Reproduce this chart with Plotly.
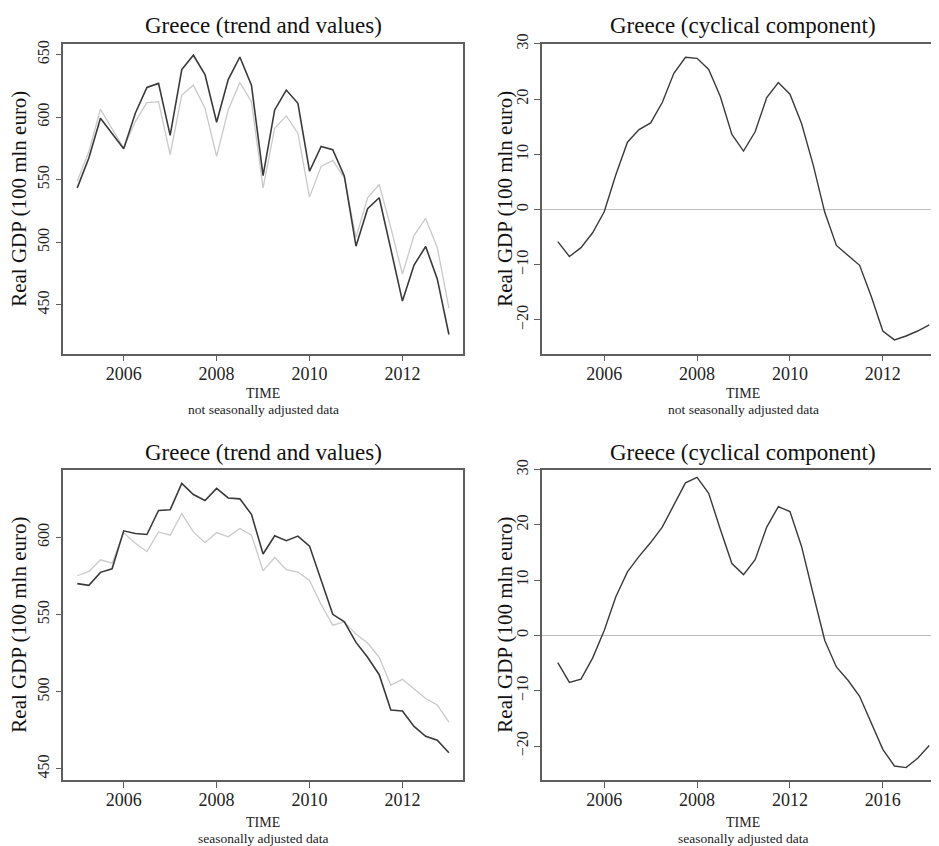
import plotly.graph_objects as go

# ---------------- data ----------------
quarters = [2005 + q / 4 for q in range(33)]

# top-left: not seasonally adjusted (dark = values, light = trend+values)
nsa_dark = [543.5, 567.4, 599.1, 587.2, 574.8, 603.1, 623.8, 627.0, 585.4, 638.1,
            649.5, 634.1, 596.0, 630.1, 648.1, 625.6, 553.3, 605.8, 621.7, 611.1,
            556.8, 576.6, 574.0, 552.8, 496.9, 526.8, 535.6, 494.5, 453.0, 481.8,
            496.6, 470.7, 426.3]
nsa_light = [548.8, 572.6, 606.3, 591.2, 575.3, 596.5, 611.6, 612.4, 570.0, 617.7,
             625.6, 607.1, 568.7, 605.8, 627.7, 612.4, 543.5, 591.2, 601.0, 587.2,
             536.1, 560.7, 565.5, 551.5, 503.8, 535.6, 546.2, 511.7, 474.6, 505.6,
             519.1, 495.8, 447.3]

# top-right: cyclical component (NSA)
nsa_cycle = [-5.8, -8.5, -6.9, -4.2, -0.4, 6.3, 12.2, 14.5, 15.7, 19.4,
             24.7, 27.6, 27.4, 25.4, 20.5, 13.6, 10.6, 14.1, 20.3, 23.0,
             20.9, 15.6, 8.1, -0.5, -6.5, -8.3, -10.1, -15.7, -22.0, -23.6,
             -22.9, -22.0, -20.9]

# bottom-left: seasonally adjusted
sa_dark = [570.1, 569.0, 577.4, 579.7, 604.3, 602.6, 601.9, 617.5, 617.9, 635.0,
           627.8, 623.9, 631.8, 625.6, 625.0, 615.0, 589.3, 601.1, 597.9, 600.9,
           594.4, 572.6, 550.2, 545.3, 532.0, 522.4, 511.1, 488.2, 487.6, 477.6,
           471.2, 468.6, 460.5]
sa_light = [575.2, 578.0, 585.5, 583.3, 603.0, 596.2, 590.8, 603.6, 601.5, 615.4,
            603.6, 596.6, 603.2, 600.4, 605.8, 601.5, 578.4, 587.0, 579.1, 577.6,
            572.2, 556.6, 543.2, 545.3, 537.4, 531.6, 522.4, 504.3, 508.1, 502.1,
            495.7, 491.5, 480.3]

# bottom-right: cyclical component (SA)
sa_cycle = [-4.9, -8.5, -7.9, -4.1, 0.9, 7.0, 11.5, 14.3, 16.8, 19.6,
            23.6, 27.6, 28.6, 25.7, 19.2, 13.0, 11.0, 13.7, 19.6, 23.3,
            22.4, 16.1, 7.5, -0.9, -5.7, -8.1, -11.0, -15.8, -20.6, -23.6,
            -23.9, -22.2, -19.9]

x_tickvals = [2006, 2008, 2010, 2012]
x_ticktext_std = ["2006", "2008", "2010", "2012"]
x_ticktext_br = ["2006", "2008", "2012", "2016"]
y_ticks_level_top = [450, 500, 550, 600, 650]
y_ticks_level_bottom = [450, 500, 550, 600]
y_ticks_cycle = [-20, -10, 0, 10, 20, 30]

titles = ["Greece (trend and values)", "Greece (cyclical component)",
          "Greece (trend and values)", "Greece (cyclical component)"]
y_title = "Real GDP (100 mln euro)"
x_title = "TIME"
sub_top = "not seasonally adjusted data"
sub_bottom = "seasonally adjusted data"

# ---------------- styling ----------------
PAGE_W, PAGE_H = 939, 846
OFF = 8  # default body margin of the html page
W, H = PAGE_W - OFF, PAGE_H - OFF
FONT = "Liberation Serif"
DARK = "#3a3a3a"
LIGHT = "#c9c9c9"
AXC = "#5e5e5e"

def px_x(p):
    return (p - OFF) / W

def px_y(p):
    return 1 - (p - OFF) / H

fig = go.Figure()

fig.add_trace(go.Scatter(x=quarters, y=nsa_light, mode="lines",
                         line=dict(color=LIGHT, width=1.3), xaxis="x", yaxis="y"))
fig.add_trace(go.Scatter(x=quarters, y=nsa_dark, mode="lines",
                         line=dict(color=DARK, width=1.6), xaxis="x", yaxis="y"))
fig.add_trace(go.Scatter(x=quarters, y=nsa_cycle, mode="lines",
                         line=dict(color=DARK, width=1.4), xaxis="x2", yaxis="y2"))
fig.add_trace(go.Scatter(x=quarters, y=sa_light, mode="lines",
                         line=dict(color=LIGHT, width=1.3), xaxis="x3", yaxis="y3"))
fig.add_trace(go.Scatter(x=quarters, y=sa_dark, mode="lines",
                         line=dict(color=DARK, width=1.6), xaxis="x3", yaxis="y3"))
fig.add_trace(go.Scatter(x=quarters, y=sa_cycle, mode="lines",
                         line=dict(color=DARK, width=1.4), xaxis="x4", yaxis="y4"))

left_dom = [px_x(63.3), px_x(463.3)]
right_dom = [px_x(542), 1.0]
top_dom = [px_y(347.7), px_y(34.3)]
bot_dom = [px_y(779), px_y(465)]

left_range = [2004.7, 2013.31]
right_range = [2004.66, 2013.21]

def xax(dom, rng, anchor, ticktext):
    return dict(domain=dom, range=rng, anchor=anchor, showgrid=False, zeroline=False,
                showline=True, mirror=True, linecolor=AXC, linewidth=1.5,
                ticks="outside", ticklen=6, tickwidth=1.2, tickcolor=AXC,
                tickvals=x_tickvals, ticktext=ticktext, ticklabelstandoff=-3,
                tickfont=dict(family=FONT, size=18, color="#222"))

def yax(dom, rng, anchor, tickvals, mirror):
    return dict(domain=dom, range=rng, anchor=anchor, showgrid=False, zeroline=False,
                showline=True, mirror=mirror, linecolor=AXC, linewidth=1.5,
                ticks="outside", ticklen=6, tickwidth=1.2, tickcolor=AXC,
                tickvals=tickvals, tickangle=-90,
                tickfont=dict(family=FONT, size=16, color="#222"))

fig.update_layout(
    width=W, height=H,
    margin=dict(l=0, r=0, t=0, b=0),
    paper_bgcolor="white", plot_bgcolor="white",
    showlegend=False,
    xaxis=xax(left_dom, left_range, "y", x_ticktext_std),
    yaxis=yax(top_dom, [411, 658.5], "x", y_ticks_level_top, True),
    xaxis2=xax(right_dom, right_range, "y2", x_ticktext_std),
    yaxis2=yax(top_dom, [-26.1, 30], "x2", y_ticks_cycle, False),
    xaxis3=xax(left_dom, left_range, "y3", x_ticktext_std),
    yaxis3=yax(bot_dom, [443, 644], "x3", y_ticks_level_bottom, True),
    xaxis4=xax(right_dom, right_range, "y4", x_ticktext_br),
    yaxis4=yax(bot_dom, [-26.1, 30], "x4", y_ticks_cycle, False),
)

# zero reference lines in the cyclical panels
for xr, yr in (("x2", "y2"), ("x4", "y4")):
    fig.add_shape(type="line", xref=xr + " domain", yref=yr, x0=0, x1=1, y0=0, y1=0,
                  line=dict(color="#bdbdbd", width=1), layer="below")

annots = []
centers_x = [263.3, 743, 263.3, 743]
title_y = [16, 16, 448, 448]
for t, cx, ty in zip(titles, centers_x, title_y):
    annots.append(dict(text=t, x=px_x(cx), y=px_y(ty), xref="paper", yref="paper",
                       showarrow=False, xanchor="center", yanchor="middle",
                       font=dict(family=FONT, size=23, color="#111")))
for yx, yc in ((19, 191), (505, 191), (19, 622), (505, 622)):
    annots.append(dict(text=y_title, x=px_x(yx), y=px_y(yc), xref="paper", yref="paper",
                       showarrow=False, xanchor="center", yanchor="middle", textangle=-90,
                       font=dict(family=FONT, size=21, color="#111")))
for cx, ty, sub, sy in ((263.3, 388, sub_top, 404), (743, 388, sub_top, 404),
                        (263.3, 822, sub_bottom, 838), (743, 822, sub_bottom, 838)):
    annots.append(dict(text=x_title, x=px_x(cx), y=px_y(ty), xref="paper", yref="paper",
                       showarrow=False, xanchor="center", yanchor="middle",
                       font=dict(family=FONT, size=14, color="#222")))
    annots.append(dict(text=sub, x=px_x(cx), y=px_y(sy), xref="paper", yref="paper",
                       showarrow=False, xanchor="center", yanchor="middle",
                       font=dict(family=FONT, size=13.5, color="#222")))
fig.update_layout(annotations=annots)

fig.write_html("out.html")
